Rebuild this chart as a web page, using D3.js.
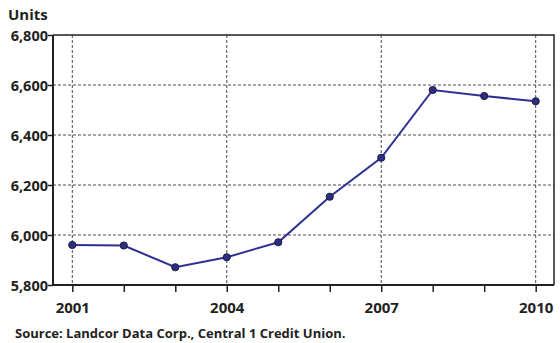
<!DOCTYPE html>
<html>
<head>
<meta charset="utf-8">
<script src="https://cdn.jsdelivr.net/npm/d3@7"></script>
<style>
  html, body { margin: 0; padding: 0; background: #fff; }
  svg { display: block; }
  text { font-family: "Open Sans", "Noto Sans", sans-serif; font-weight: 700; fill: #231f20; }
</style>
</head>
<body>
<svg id="chart" width="560" height="343"></svg>
<script>
// Housing units by year
const years = [2001, 2002, 2003, 2004, 2005, 2006, 2007, 2008, 2009, 2010];
const units = [5960, 5958, 5871, 5911, 5971, 6153, 6309, 6580, 6556, 6535];
const yTicks = [5800, 6000, 6200, 6400, 6600, 6800];
const xLabelYears = [2001, 2004, 2007, 2010];
const yAxisTitle = "Units";
const sourceNote = "Source: Landcor Data Corp., Central 1 Credit Union.";

const svg = d3.select("#chart");
const plotL = 53, plotR = 554, plotT = 35, plotB = 285;

const x = d3.scaleLinear().domain([2001, 2010]).range([72.3, 535.7]);
const y = d3.scaleLinear().domain([5800, 6800]).range([plotB, plotT]);

const ink = "#231f20";
const grid = svg.append("g");

// dashed grid
grid.selectAll("line.h").data(yTicks.filter(d => d > 5800 && d < 6800)).join("line")
  .attr("x1", plotL).attr("x2", plotR)
  .attr("y1", d => y(d)).attr("y2", d => y(d))
  .attr("stroke", "#4a4a4a").attr("stroke-width", 1).attr("stroke-dasharray", "3,2");
grid.selectAll("line.v").data(xLabelYears).join("line")
  .attr("x1", d => x(d)).attr("x2", d => x(d))
  .attr("y1", plotT).attr("y2", plotB)
  .attr("stroke", "#4a4a4a").attr("stroke-width", 1).attr("stroke-dasharray", "3,2");

// frame: top and right
svg.append("path")
  .attr("d", `M${plotL},${plotT}H${plotR}V${plotB}`)
  .attr("fill", "none").attr("stroke", ink).attr("stroke-width", 1.5);

// x axis
const xAxis = svg.append("g").attr("transform", `translate(0,${plotB})`)
  .call(d3.axisBottom(x).tickValues(years).tickSize(7).tickFormat(d => xLabelYears.includes(d) ? d : ""));
xAxis.select(".domain").attr("d", `M${plotL},0H${plotR}`).attr("stroke", ink).attr("stroke-width", 2);
xAxis.selectAll(".tick line").attr("stroke", ink).attr("stroke-width", 1.5);
xAxis.selectAll(".tick text").attr("y", 27.5).attr("dy", null)
  .style("font-size", "15px").style("font-family", "'Open Sans', sans-serif").style("font-weight", 700).attr("fill", ink);

// y axis
const yAxis = svg.append("g").attr("transform", `translate(${plotL},0)`)
  .call(d3.axisLeft(y).tickValues(yTicks).tickSize(5).tickFormat(d3.format(",")));
yAxis.select(".domain").attr("d", `M0,${plotT}V${plotB}`).attr("stroke", ink).attr("stroke-width", 2);
yAxis.selectAll(".tick line").attr("stroke", ink).attr("stroke-width", 1.5);
yAxis.selectAll(".tick text").attr("x", -5).attr("dy", "0.36em")
  .style("font-size", "14.5px").style("font-family", "'Open Sans', sans-serif").style("font-weight", 700).attr("fill", ink);

// series
const pts = years.map((yr, i) => [yr, units[i]]);
svg.append("path").datum(pts)
  .attr("d", d3.line().x(d => x(d[0])).y(d => y(d[1])))
  .attr("fill", "none").attr("stroke", "#2e3192").attr("stroke-width", 2);
svg.selectAll("circle.pt").data(pts).join("circle")
  .attr("cx", d => x(d[0])).attr("cy", d => y(d[1])).attr("r", 3.6)
  .attr("fill", "#2b2e83").attr("stroke", "#1a1a40").attr("stroke-width", 1);

// titles
svg.append("text").attr("x", 8).attr("y", 20).style("font-size", "15px").text(yAxisTitle);
svg.append("text").attr("x", 15).attr("y", 338).style("font-size", "13px").text(sourceNote);
</script>
</body>
</html>
